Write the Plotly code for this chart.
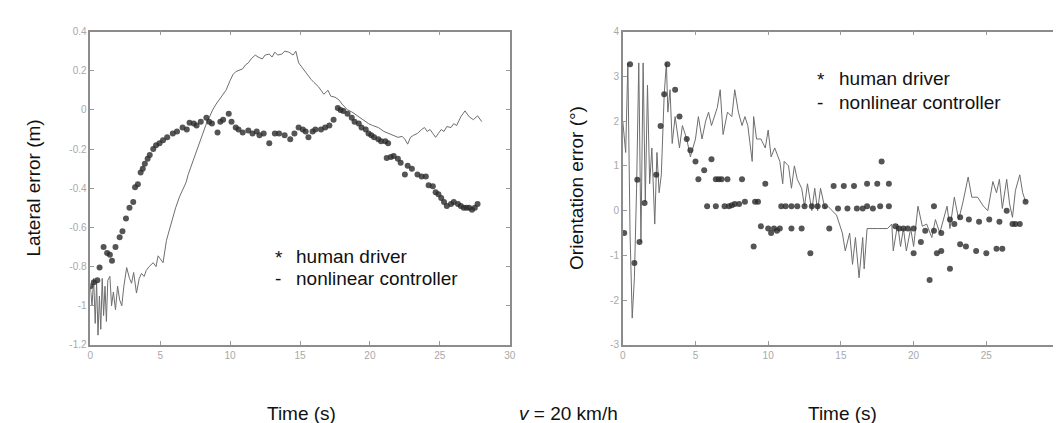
import plotly.graph_objects as go

# lateral error (left panel)
lat_human_t = [0.0, 0.25, 0.5, 0.66, 0.95, 1.2, 1.4, 1.55, 1.8, 2.1, 2.3, 2.55, 2.8, 3.07, 3.2, 3.4, 3.6, 3.75, 3.9,
               4.1, 4.25, 4.5, 4.7, 4.95, 5.2, 5.5, 5.9, 6.2, 6.6, 6.9, 7.1, 7.4, 7.6, 7.9, 8.3, 8.5, 8.7, 9.1, 9.3,
               9.5, 9.9, 10.1, 10.4, 10.6, 10.9, 11.3, 11.6, 11.9, 12.1, 12.4, 12.8, 13.2, 13.5, 13.9, 14.3, 14.6,
               14.9, 15.2, 15.4, 15.6, 15.9, 16.1, 16.5, 16.8, 17.1, 17.4, 17.7, 17.9, 18.1, 18.4, 18.7, 18.9, 19.2,
               19.4, 19.7, 19.9, 20.1, 20.3, 20.6, 20.8, 21.1, 21.3, 21.2, 21.5, 21.7, 22.0, 22.2, 22.5, 22.7, 23.0,
               23.4, 23.7, 24.0, 24.2, 24.5, 24.7, 24.9, 25.1, 25.3, 25.5, 25.8, 26.0, 26.3, 26.5, 26.7, 26.9, 27.1,
               27.3, 27.5, 27.7]
lat_human_e = [-0.9, -0.88, -0.87, -0.805, -0.7, -0.73, -0.74, -0.77, -0.7, -0.65, -0.62, -0.555, -0.5, -0.47,
               -0.395, -0.38, -0.32, -0.3, -0.275, -0.25, -0.23, -0.2, -0.18, -0.17, -0.155, -0.14, -0.12, -0.11,
               -0.09, -0.1, -0.065, -0.07, -0.08, -0.06, -0.04, -0.06, -0.07, -0.115, -0.06, -0.05, -0.02, -0.06,
               -0.09, -0.1, -0.115, -0.105, -0.12, -0.11, -0.13, -0.12, -0.17, -0.12, -0.12, -0.13, -0.15, -0.12,
               -0.09, -0.1, -0.11, -0.14, -0.11, -0.1, -0.1, -0.09, -0.08, -0.05, 0.01, 0.0, -0.005, -0.02, -0.04,
               -0.06, -0.07, -0.09, -0.1, -0.12, -0.13, -0.14, -0.15, -0.16, -0.16, -0.17, -0.245, -0.24, -0.235,
               -0.25, -0.27, -0.33, -0.285, -0.3, -0.33, -0.34, -0.34, -0.385, -0.39, -0.42, -0.43, -0.45, -0.47,
               -0.49, -0.48, -0.47, -0.48, -0.49, -0.5, -0.5, -0.5, -0.51, -0.5, -0.48]

lat_ctrl_t = [0.0, 0.12, 0.24, 0.35, 0.45, 0.55, 0.65, 0.75, 0.85, 0.95, 1.05, 1.15, 1.25, 1.4, 1.52, 1.65, 1.8,
              1.95, 2.1, 2.25, 2.4, 2.6, 2.8, 2.95, 3.1, 3.3, 3.5, 3.66, 3.85, 4.0, 4.2, 4.35, 4.5, 4.7, 4.85, 5.0,
              5.2, 5.45, 5.7, 5.9, 6.1, 6.4, 6.6, 6.85, 7.0, 7.2, 7.4, 7.6, 7.9, 8.1, 8.3, 8.5, 8.75, 9.0, 9.2,
              9.45, 9.7, 10.0, 10.2, 10.4, 10.6, 10.9, 11.1, 11.3, 11.5, 11.8, 12.0, 12.3, 12.5, 12.8, 13.0, 13.2,
              13.4, 13.7, 13.9, 14.2, 14.5, 14.7, 14.9, 15.1, 15.4, 15.6, 15.8, 16.0, 16.3, 16.5, 16.7, 17.0, 17.2,
              17.5, 17.8, 18.0, 18.4, 18.7, 19.1, 19.5, 19.9, 20.2, 20.6, 21.0, 21.5, 22.0, 22.3, 22.5, 22.7, 22.9,
              23.1, 23.4, 23.7, 23.9, 24.1, 24.3, 24.5, 24.7, 24.9, 25.1, 25.3, 25.5, 25.8, 26.0, 26.2, 26.5, 26.8,
              27.1, 27.4, 27.7, 28.0]
lat_ctrl_e = [-0.9, -1.0, -0.86, -1.09, -0.88, -1.15, -0.95, -1.12, -0.86, -1.05, -0.9, -1.08, -0.87, -0.85,
              -1.0, -0.93, -1.02, -0.9, -0.97, -1.0, -0.9, -0.805, -0.86, -0.885, -0.83, -0.935, -0.86, -0.835,
              -0.85, -0.82, -0.8, -0.79, -0.78, -0.8, -0.745, -0.76, -0.78, -0.665, -0.6, -0.54, -0.5, -0.44, -0.41,
              -0.37, -0.33, -0.29, -0.24, -0.2, -0.15, -0.11, -0.07, -0.04, 0.0, 0.03, 0.05, 0.07, 0.1, 0.15, 0.18,
              0.195, 0.2, 0.21, 0.23, 0.24, 0.26, 0.28, 0.27, 0.26, 0.28, 0.285, 0.27, 0.295, 0.28, 0.285, 0.3,
              0.295, 0.28, 0.3, 0.24, 0.22, 0.19, 0.17, 0.155, 0.14, 0.12, 0.1, 0.08, 0.1, 0.07, 0.065, 0.05, 0.03,
              0.0, -0.01, -0.03, -0.05, -0.07, -0.08, -0.09, -0.11, -0.125, -0.14, -0.135, -0.15, -0.175, -0.14,
              -0.13, -0.12, -0.1, -0.09, -0.11, -0.1, -0.12, -0.14, -0.12, -0.1, -0.11, -0.085, -0.09, -0.07, -0.08,
              -0.035, -0.005, -0.035, -0.05, -0.03, -0.06]

# orientation error (right panel)
ori_human_t = [0.1, 0.5, 0.8, 1.0, 1.15, 1.5, 2.3, 2.6, 2.85, 3.07, 3.6, 3.9, 4.4, 4.65, 5.0, 5.2, 5.6, 5.8, 6.1,
               6.4, 6.4, 6.6, 6.8, 7.0, 7.2, 7.3, 7.5, 7.7, 8.0, 8.2, 8.4, 9.0, 9.1, 9.3, 9.5, 9.8, 10.0, 10.2,
               10.4, 10.6, 10.8, 10.9, 11.2, 11.6, 11.6, 12.0, 12.3, 12.5, 12.9, 13.0, 13.4, 13.9, 14.2, 14.5, 14.8,
               15.2, 15.45, 15.9, 16.1, 16.5, 16.8, 16.8, 17.2, 17.5, 17.7, 17.8, 18.3, 18.3, 18.75, 19.0, 19.3,
               19.6, 20.0, 20.0, 20.5, 20.8, 21.1, 21.4, 21.4, 21.6, 21.9, 21.9, 22.5, 22.5, 22.8, 23.2, 23.2, 23.6,
               23.8, 24.3, 24.5, 25.0, 25.2, 25.7, 25.9, 26.1, 26.4, 26.8, 27.0, 27.3, 27.7]
ori_human_e = [-0.5, 3.27, -1.17, 0.69, -0.7, 0.17, 0.8, 1.89, 2.6, 3.27, 2.7, 2.1, 1.6, 1.35, 1.1, 0.7, 0.9, 0.1,
               1.15, 0.7, 0.1, 0.7, 0.7, 0.1, 0.7, 0.1, 0.12, 0.15, 0.15, 0.7, 0.2, -0.8, 0.2, 0.2, -0.35, 0.6, -0.4,
               -0.5, -0.4, -0.45, -0.4, 0.1, 0.1, -0.4, 0.1, 0.1, -0.4, 0.1, -0.95, 0.1, 0.1, 0.1, -0.4, 0.55, 0.05,
               0.55, 0.05, 0.55, 0.05, 0.05, 0.6, 0.1, 0.05, 0.6, 0.1, 1.1, 0.6, 0.1, -0.35, -0.4, -0.4, -0.4, -0.4,
               -0.95, -0.7, -0.45, -1.55, -0.45, 0.1, -0.95, -0.5, -0.9, -0.2, -1.3, -0.3, -0.15, -0.75, -0.8, -0.2,
               -0.9, -0.25, -0.95, -0.2, -0.85, -0.25, -0.85, 0.0, -0.3, -0.3, -0.3, 0.2]

ori_ctrl_t = [0.0, 0.2, 0.35, 0.5, 0.65, 0.8, 0.95, 1.1, 1.25, 1.4, 1.55, 1.7, 1.85, 2.0, 2.2, 2.35, 2.5, 2.65,
              2.85, 3.0, 3.1, 3.25, 3.4, 3.6, 3.9, 4.1, 4.4, 4.65, 5.0, 5.2, 5.45, 5.7, 5.9, 6.1, 6.5, 6.7, 6.9,
              7.2, 7.5, 7.7, 7.95, 8.2, 8.4, 8.6, 8.9, 9.0, 9.2, 9.5, 9.8, 10.0, 10.2, 10.45, 10.8, 11.0, 11.1,
              11.4, 11.6, 11.8, 12.0, 12.3, 12.5, 12.7, 13.0, 13.2, 13.4, 13.6, 13.9, 14.1, 14.4, 14.7, 14.9, 15.1,
              15.3, 15.6, 15.8, 16.0, 16.25, 16.5, 16.6, 16.8, 17.5, 18.2, 18.5, 18.6, 18.9, 19.1, 19.3, 19.5, 19.8,
              20.0, 20.3, 20.6, 20.9, 21.25, 21.5, 21.8, 22.3, 22.5, 22.8, 23.1, 23.4, 23.75, 24.0, 24.4, 24.8,
              25.1, 25.45, 25.7, 25.9, 26.1, 26.4, 26.6, 26.8, 27.0, 27.3, 27.5, 27.7]
ori_ctrl_e = [2.0, 1.3, 3.3, -0.5, -2.4, -1.5, 0.5, 3.3, -0.7, 3.3, 0.2, 2.8, 0.6, 1.4, -0.3, 1.3, 0.4, 0.8,
              2.6, 3.3, 2.2, 2.7, 1.5, 2.1, 1.4, 1.9, 1.6, 1.2, 1.6, 2.1, 1.6, 2.0, 2.2, 1.9, 2.3, 2.7, 1.7,
              2.2, 2.1, 2.7, 2.2, 1.9, 2.1, 1.9, 1.1, 2.1, 1.6, 1.6, 1.4, 1.8, 1.2, 1.4, 1.1, 0.6, 1.1,
              1.0, 0.5, 1.0, 0.7, 0.5, 0.1, 0.6, 0.0, 0.5, 0.0, 0.5, 0.05, 0.1, 0.0, -0.1, -0.3, -0.5,
              -0.9, -0.5, -1.2, -0.6, -1.5, -0.6, -1.3, -0.4, -0.4, -0.4, -0.3, -0.9, -0.3, -0.8, -0.4, -0.9, -0.4,
              -0.8, 0.1, -0.35, -0.3, -0.6, -0.2, -0.5, 0.1, -0.4, 0.3, -0.2, 0.2, 0.75, 0.3, 0.3, 0.1,
              0.0, 0.65, 0.4, 0.7, 0.05, 0.7, 0.15, -0.15, 0.45, 0.8, 0.4, 0.2]

x_ticks = [0, 5, 10, 15, 20, 25, 30]
lat_ticks = [0.4, 0.2, 0, -0.2, -0.4, -0.6, -0.8, -1, -1.2]
lat_ticktext = ["0.4", "0.2", "0", "-0.2", "-0.4", "-0.6", "-0.8", "-1", "-1.2"]
ori_ticks = [4, 3, 2, 1, 0, -1, -2, -3]
ori_ticktext = ["4", "3", "2", "1", "0", "-1", "-2", "-3"]

W, H = 1061, 423
FONT = "Liberation Sans, Arial, sans-serif"

def px(x):
    return x / W

def py(y):
    return 1 - y / H

line_style = dict(color="#6e6e6e", width=1)
marker_style = dict(color="#2b2b2b", size=6, opacity=0.8)

fig = go.Figure()
fig.add_trace(go.Scatter(x=lat_ctrl_t, y=lat_ctrl_e, mode="lines", line=line_style, xaxis="x", yaxis="y"))
fig.add_trace(go.Scatter(x=lat_human_t, y=lat_human_e, mode="markers", marker=marker_style, xaxis="x", yaxis="y"))
fig.add_trace(go.Scatter(x=ori_ctrl_t, y=ori_ctrl_e, mode="lines", line=line_style, xaxis="x2", yaxis="y2"))
fig.add_trace(go.Scatter(x=ori_human_t, y=ori_human_e, mode="markers", marker=marker_style, xaxis="x2", yaxis="y2"))

axis_common = dict(showline=True, linecolor="#8c8c8c", linewidth=1.5, mirror="ticks", ticks="inside",
                   ticklen=4, tickcolor="#9a9a9a", showgrid=False, zeroline=False,
                   tickfont=dict(family=FONT, size=10, color="#a8a8a8"))

y_dom = [py(340), py(19)]
fig.update_layout(
    width=W, height=H,
    margin=dict(l=0, r=0, t=0, b=0),
    paper_bgcolor="white", plot_bgcolor="white",
    showlegend=False,
    xaxis=dict(domain=[px(80), px(503)], range=[0, 30], tickvals=x_ticks, anchor="y", **axis_common),
    yaxis=dict(domain=y_dom, range=[-1.2, 0.4], tickvals=lat_ticks, ticktext=lat_ticktext, anchor="x",
               **axis_common),
    xaxis2=dict(domain=[px(617), px(1057)], range=[0, 30], tickvals=x_ticks, anchor="y2", **axis_common),
    yaxis2=dict(domain=y_dom, range=[-3, 4], tickvals=ori_ticks, ticktext=ori_ticktext, anchor="x2",
                **axis_common),
)

def label(text, x, y, size=19, angle=0, xanchor="center"):
    fig.add_annotation(text=text, x=px(x), y=py(y), xref="paper", yref="paper", showarrow=False,
                       textangle=angle, xanchor=xanchor, yanchor="middle",
                       font=dict(family=FONT, size=size, color="#111"))

label("Lateral error (m)", 23, 179, angle=-90)
label("Orientation error (°)", 571, 179, angle=-90)
label("Time (s)", 293, 410)
label("Time (s)", 839, 410)
label("<i>v</i> = 20 km/h", 562, 410)

# in-plot legends
label("*", 264, 250, xanchor="left")
label("human driver", 285, 249, xanchor="left")
label("-", 264, 272, xanchor="left")
label("nonlinear controller", 285, 272, xanchor="left")
label("*", 811, 68, xanchor="left")
label("human driver", 833, 67, xanchor="left")
label("-", 811, 92, xanchor="left")
label("nonlinear controller", 833, 92, xanchor="left")

fig.write_html("out.html")
